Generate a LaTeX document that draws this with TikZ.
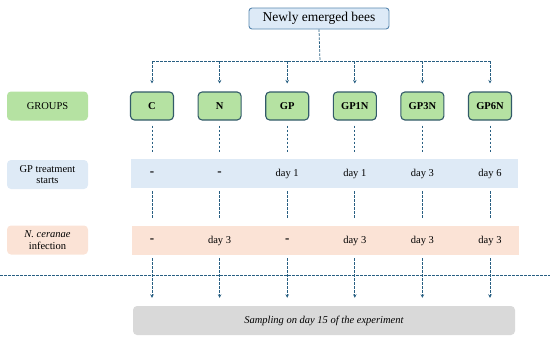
\documentclass[tikz,border=0pt]{standalone}
\usepackage{fontspec}
\setmainfont{Liberation Serif}
\usetikzlibrary{arrows.meta, positioning, calc}

\definecolor{linkblue}{RGB}{40,95,130}
\definecolor{groupgreen}{RGB}{181,226,162}
\definecolor{groupedge}{RGB}{50,90,105}
\definecolor{titlefill}{RGB}{221,234,247}
\definecolor{titleedge}{RGB}{88,135,175}
\definecolor{bandblue}{RGB}{222,234,246}
\definecolor{bandpeach}{RGB}{251,227,214}
\definecolor{samplegray}{RGB}{217,217,217}

\newcommand{\nodash}{{\fontsize{13}{13}\selectfont\bfseries -}}

\begin{document}
\begin{tikzpicture}[
    x=1pt, y=-1pt,
    font=\rmfamily\fontsize{10.5}{11.5}\selectfont,
    title/.style={draw=titleedge, fill=titlefill, line width=0.9pt, rounded corners=3pt, minimum width=140pt, minimum height=21pt, inner sep=0pt, font=\rmfamily\fontsize{13.5}{15}\selectfont},
    group/.style={draw=groupedge, fill=groupgreen, line width=1.1pt, rounded corners=4pt, minimum width=43pt, minimum height=28pt, inner sep=0pt, font=\rmfamily\fontsize{10.5}{12}\selectfont\bfseries},
    rowlabel/.style={rounded corners=4pt, minimum width=81pt, minimum height=29pt, inner sep=0pt, align=center},
    band/.style={minimum width=387pt, minimum height=29pt, inner sep=0pt},
    cell/.style={inner sep=1pt},
    link/.style={draw=linkblue, line width=0.8pt, dash pattern=on 2.5pt off 1.5pt},
    arrowlink/.style={link, -{Stealth[length=3.5pt, width=3.5pt]}}
]
\useasboundingbox (0,0) rectangle (550,340);

% Nodes
\node[title] (bees) at (319, 18.5) {Newly emerged bees};

\node[rowlabel, fill=groupgreen] (groupslbl) at (47.5, 106) {GROUPS};
\node[rowlabel, fill=bandblue] (gplbl) at (47.5, 174.5) {GP treatment\\starts};
\node[rowlabel, fill=bandpeach] (nclbl) at (47.5, 240) {\textit{N. ceranae}\\infection};

\node[band, fill=bandblue] (gpband) at (324.5, 173.5) {};
\node[band, fill=bandpeach] (ncband) at (325, 240.5) {};
\node[band, fill=samplegray, rounded corners=4pt, minimum width=382pt] (sample) at (324, 320.5) {\textit{Sampling on day 15 of the experiment}};

\coordinate (split) at (320, 61);
\coordinate (lineL) at (0, 275);
\coordinate (lineR) at (550, 275);

% Groups with their days
\foreach \name/\gp/\nc [count=\i from 0] in {C/\nodash/\nodash, N/\nodash/day 3, GP/day 1/\nodash, GP1N/day 1/day 3, GP3N/day 3/day 3, GP6N/day 6/day 3}{
    \node[group] (\name) at (152+67.6*\i, 106) {\name};
    \node[cell] (gp\name) at (\name |- gpband) {\gp};
    \node[cell] (nc\name) at (\name |- ncband) {\nc};
    % Connectors
    \draw[arrowlink, shorten >=8pt] (\name |- split) -- (\name.north);
    \draw[link, shorten <=5pt, shorten >=7pt] (\name.south) -- (\name |- gpband.north);
    \draw[link, shorten <=3pt, shorten >=7pt] (\name |- gpband.south) -- (\name |- ncband.north);
    \draw[arrowlink, shorten <=3pt, shorten >=8pt] (\name |- ncband.south) -- (\name |- sample.north);
}

\draw[link] (bees.south) -- (split);
\draw[link] (C |- split) -- (GP6N |- split);
\draw[link] (lineL) -- (lineR);

\end{tikzpicture}
\end{document}
